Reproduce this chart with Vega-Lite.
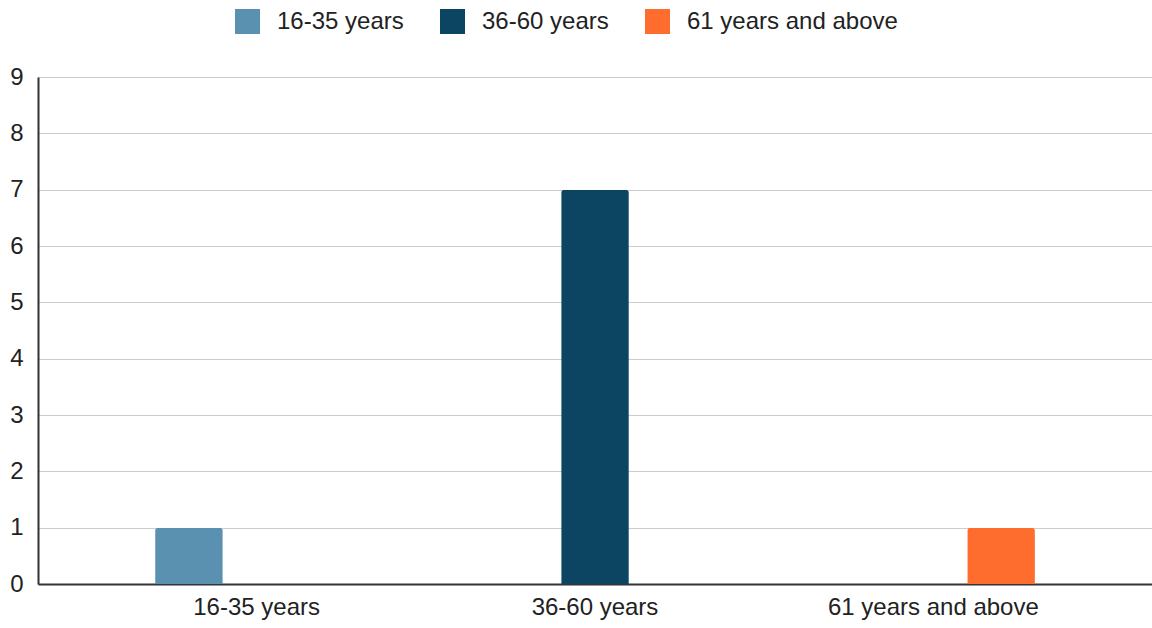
{
  "$schema": "https://vega.github.io/schema/vega-lite/v6.json",
  "width": 1114,
  "height": 507,
  "autosize": "none",
  "padding": {"left": 38, "top": 77, "right": 0, "bottom": 44},
  "background": "white",
  "data": {"values": [
    {"group": "16-35 years", "count": 1},
    {"group": "36-60 years", "count": 7},
    {"group": "61 years and above", "count": 1}
  ]},
  "mark": {"type": "bar", "cornerRadiusEnd": 3},
  "encoding": {
    "x": {
      "field": "group", "type": "nominal",
      "sort": ["16-35 years", "36-60 years", "61 years and above"],
      "scale": {"paddingInner": 0.4, "paddingOuter": 0.346},
      "axis": {"title": null, "labelAngle": 0, "ticks": false, "domain": true, "domainColor": "#333333", "domainWidth": 2, "labelFontSize": 24, "labelFont": "Liberation Sans", "labelColor": "#222222", "labelPadding": 11, "labelLimit": 400}
    },
    "xOffset": {
      "field": "group", "type": "nominal",
      "sort": ["16-35 years", "36-60 years", "61 years and above"],
      "scale": {"paddingInner": 0, "paddingOuter": 0}
    },
    "y": {
      "field": "count", "type": "quantitative",
      "scale": {"domain": [0, 9], "nice": false},
      "axis": {"title": null, "values": [0,1,2,3,4,5,6,7,8,9], "ticks": false, "domain": true, "domainColor": "#333333", "domainWidth": 2, "gridColor": "#cccccc", "gridWidth": 1, "labelFontSize": 24, "labelFont": "Liberation Sans", "labelColor": "#222222", "labelPadding": 15}
    },
    "color": {
      "field": "group", "type": "nominal",
      "sort": ["16-35 years", "36-60 years", "61 years and above"],
      "scale": {"domain": ["16-35 years", "36-60 years", "61 years and above"], "range": ["#5a91b0", "#0b4562", "#ff6d2e"]},
      "legend": {
        "title": null, "orient": "none", "direction": "horizontal",
        "legendX": 197, "legendY": -68,
        "symbolType": "square", "symbolSize": 625, "symbolStrokeWidth": 0,
        "labelFontSize": 24, "labelFont": "Liberation Sans", "labelColor": "#222222",
        "labelOffset": 17, "columnPadding": 36, "labelLimit": 400
      }
    }
  },
  "config": {"view": {"stroke": null}}
}
